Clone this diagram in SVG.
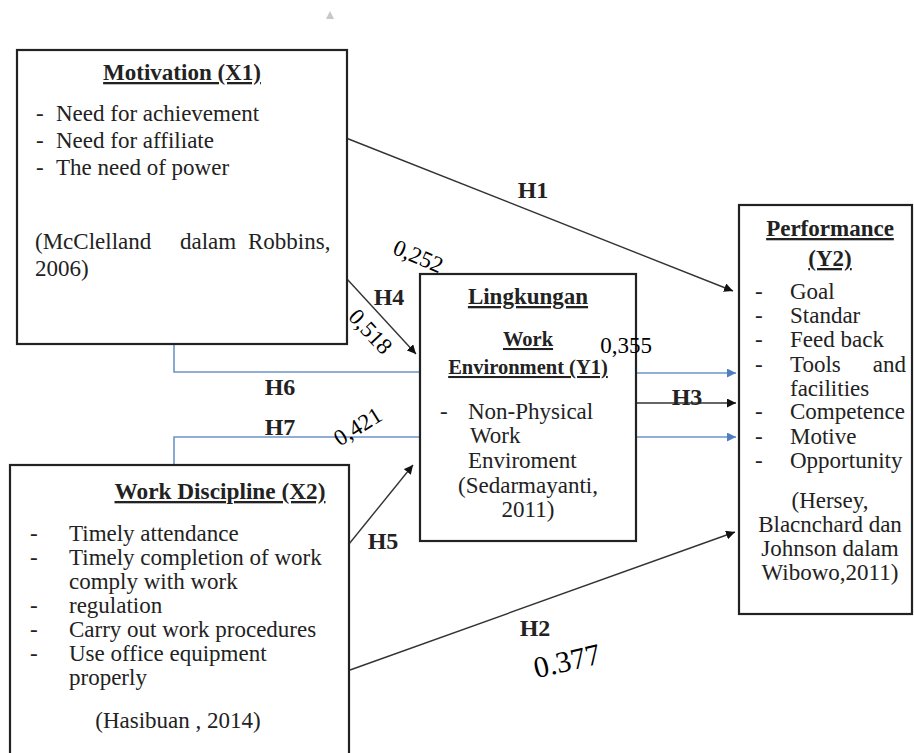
<svg xmlns="http://www.w3.org/2000/svg" width="914" height="753" viewBox="0 0 914 753">
<style>
.box{fill:#fff;stroke:#222;stroke-width:2.2}
.t{font-family:"Liberation Serif","Times New Roman",serif;font-size:23px;fill:#222}
.b{font-family:"Liberation Serif","Times New Roman",serif;font-weight:bold;fill:#222}
.u{text-decoration:underline}
.h{font-family:"Liberation Serif","Times New Roman",serif;font-weight:bold;font-size:24px;fill:#222}
.n{font-family:"Liberation Serif","Times New Roman",serif;font-size:23px;fill:#000}
.k{fill:none;stroke:#333;stroke-width:1.4}
.bl{fill:none;stroke:#6f93c8;stroke-width:1.6}
</style>
<defs>
<marker id="ak" viewBox="0 0 10 10" refX="10" refY="5" markerWidth="9" markerHeight="9" markerUnits="userSpaceOnUse" orient="auto"><path d="M0,0 L10,5 L0,10 z" fill="#111"/></marker>
<marker id="ab" viewBox="0 0 10 10" refX="10" refY="5" markerWidth="9" markerHeight="9" markerUnits="userSpaceOnUse" orient="auto"><path d="M0,0 L10,5 L0,10 z" fill="#4f7fc0"/></marker>
</defs>
<rect width="914" height="753" fill="#fff"/>
<path d="M326,19 L330,11 L334,19 z" fill="#c8c8c8"/>

<g id="connectors">
<path class="k" d="M346,138 L733,291" marker-end="url(#ak)"/>
<path class="k" d="M347,279 L416,354" marker-end="url(#ak)"/>
<path class="k" d="M349,544 L413,465" marker-end="url(#ak)"/>
<path class="k" d="M350,670 L735,532" marker-end="url(#ak)"/>
<path class="k" d="M636,403 L736,403" marker-end="url(#ak)"/>
<path class="bl" d="M636,373 L736,373" marker-end="url(#ab)"/>
<path class="bl" d="M636,437 L736,437" marker-end="url(#ab)"/>
<path class="bl" d="M174,344 V372 H419"/>
<path class="bl" d="M174,465 V437 H419"/>
</g>

<g id="motivation">
<rect class="box" x="17" y="50" width="330" height="294"/>
<text class="b u" x="182" y="80" text-anchor="middle" font-size="23">Motivation (X1)</text>
<text class="t" x="36" y="121">-</text><text class="t" x="56" y="121">Need for achievement</text>
<text class="t" x="36" y="148">-</text><text class="t" x="56" y="148">Need for affiliate</text>
<text class="t" x="36" y="175">-</text><text class="t" x="56" y="175">The need of power</text>
<text class="t" y="249"><tspan x="35">(McClelland</tspan><tspan x="180">dalam</tspan><tspan x="248">Robbins,</tspan></text>
<text class="t" x="35" y="276">2006)</text>
</g>

<g id="discipline">
<rect class="box" x="10" y="465" width="339" height="300"/>
<text class="b u" x="220" y="499" text-anchor="middle" font-size="23.3">Work Discipline (X2)</text>
<text class="t" x="30" y="541">-</text><text class="t" x="69" y="541">Timely attendance</text>
<text class="t" x="30" y="565">-</text><text class="t" x="69" y="565">Timely completion of work</text>
<text class="t" x="69" y="589">comply with work</text>
<text class="t" x="30" y="613">-</text><text class="t" x="69" y="613">regulation</text>
<text class="t" x="30" y="637">-</text><text class="t" x="69" y="637">Carry out work procedures</text>
<text class="t" x="30" y="661">-</text><text class="t" x="69" y="661">Use office equipment</text>
<text class="t" x="69" y="685">properly</text>
<text class="t" x="178" y="728" text-anchor="middle">(Hasibuan , 2014)</text>
</g>

<g id="work-environment">
<rect class="box" x="420" y="274" width="216" height="267"/>
<text class="b u" x="528" y="304" text-anchor="middle" font-size="23">Lingkungan</text>
<text class="b u" x="528" y="346" text-anchor="middle" font-size="20.5">Work</text>
<text class="b u" x="528" y="374" text-anchor="middle" font-size="20.5">Environment (Y1)</text>
<text class="t" x="440" y="419">-</text>
<text class="t" x="468" y="419">Non-Physical</text>
<text class="t" x="470" y="443">Work</text>
<text class="t" x="468" y="468">Enviroment</text>
<text class="t" x="528" y="493" text-anchor="middle">(Sedarmayanti,</text>
<text class="t" x="528" y="517" text-anchor="middle">2011)</text>
</g>

<g id="performance">
<rect class="box" x="739" y="205" width="173" height="409"/>
<text class="b u" x="830" y="236" text-anchor="middle" font-size="23">Performance</text>
<text class="b u" x="830" y="266" text-anchor="middle" font-size="23">(Y2)</text>
<text class="t" x="755" y="299">-</text><text class="t" x="790" y="299">Goal</text>
<text class="t" x="755" y="323">-</text><text class="t" x="790" y="323">Standar</text>
<text class="t" x="755" y="347">-</text><text class="t" x="790" y="347">Feed back</text>
<text class="t" x="755" y="372">-</text><text class="t" x="790" y="372">Tools</text><text class="t" x="906" y="372" text-anchor="end">and</text>
<text class="t" x="790" y="396">facilities</text>
<text class="t" x="755" y="419">-</text><text class="t" x="790" y="419">Competence</text>
<text class="t" x="755" y="444">-</text><text class="t" x="790" y="444">Motive</text>
<text class="t" x="755" y="468">-</text><text class="t" x="790" y="468">Opportunity</text>
<text class="t" x="830" y="508" text-anchor="middle">(Hersey,</text>
<text class="t" x="830" y="532" text-anchor="middle">Blacnchard dan</text>
<text class="t" x="830" y="556" text-anchor="middle">Johnson dalam</text>
<text class="t" x="830" y="580" text-anchor="middle">Wibowo,2011)</text>
</g>

<g id="connector-labels">
<text class="h" x="533" y="198" text-anchor="middle">H1</text>
<text class="h" x="389" y="305" text-anchor="middle">H4</text>
<text class="h" x="280" y="395" text-anchor="middle">H6</text>
<text class="h" x="280" y="435" text-anchor="middle">H7</text>
<text class="h" x="687" y="405" text-anchor="middle">H3</text>
<text class="h" x="383" y="549" text-anchor="middle">H5</text>
<text class="h" x="535" y="636" text-anchor="middle">H2</text>
<text class="n" transform="translate(418,257) rotate(23)" text-anchor="middle" dy="7">0,252</text>
<text class="n" transform="translate(370,332) rotate(47)" text-anchor="middle" dy="7">0,518</text>
<text class="n" transform="translate(358,427) rotate(-32)" text-anchor="middle" dy="7">0,421</text>
<text class="n" x="626" y="353" text-anchor="middle">0,355</text>
<text class="n" transform="translate(567,661) rotate(-13)" text-anchor="middle" dy="10" style="font-size:30px">0.377</text>
</g>
</svg>
